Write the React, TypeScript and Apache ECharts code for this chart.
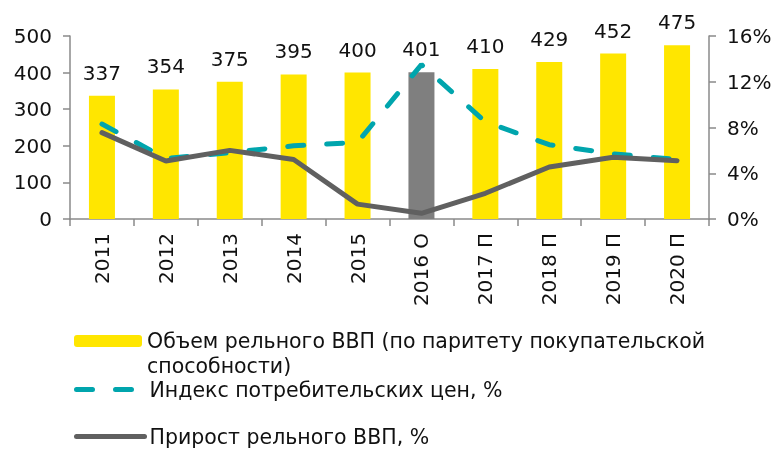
import React, { useEffect, useRef } from "react";
import * as echarts from "echarts";

const categories = ["2011", "2012", "2013", "2014", "2015", "2016 О", "2017 П", "2018 П", "2019 П", "2020 П"];
const gdpVolume = [337, 354, 375, 395, 400, 401, 410, 429, 452, 475];
const cpi = [8.3, 5.3, 5.8, 6.4, 6.7, 13.5, 8.5, 6.5, 5.7, 5.2];
const gdpGrowth = [7.55, 5.07, 6.0, 5.2, 1.3, 0.5, 2.25, 4.55, 5.4, 5.1];
const estimateIndex = 5;

const barName = "Объем рельного ВВП (по паритету покупательской способности)";
const cpiName = "Индекс потребительских цен, %";
const growthName = "Прирост рельного ВВП, %";

const FONT = "DejaVu Sans";
const axisColor = "#8a8a8a";

export default function App() {
  const ref = useRef<HTMLDivElement>(null);
  useEffect(() => {
    if (!ref.current) return;
    const chart = echarts.init(ref.current, undefined, { renderer: "svg" });
    const legendText = { fontFamily: FONT, fontSize: 20.5, color: "#111", lineHeight: 25 };
    const legendBase = {
      left: 74,
      padding: 0,
      itemWidth: 68,
      itemHeight: 12,
      textStyle: legendText,
    };
    chart.setOption({
      animation: false,
      textStyle: { fontFamily: FONT },
      grid: { left: 70, right: 72, top: 36, bottom: 230, containLabel: false },
      legend: [
        {
          ...legendBase,
          data: [barName],
          top: 303.5,
          formatter: () => "\nОбъем рельного ВВП (по паритету покупательской\nспособности)",
        },
        {
          ...legendBase,
          data: [cpiName],
          top: 377,
          itemStyle: { opacity: 0 },
          lineStyle: { width: 5, cap: "round" },
        },
        {
          ...legendBase,
          data: [growthName],
          top: 424,
          itemStyle: { opacity: 0 },
          lineStyle: { width: 5, cap: "round" },
        },
      ],
      xAxis: {
        type: "category",
        data: categories,
        boundaryGap: true,
        axisLine: { lineStyle: { color: axisColor, width: 1.5 } },
        axisTick: { show: true, length: 7, lineStyle: { color: axisColor, width: 1.5 } },
        axisLabel: { rotate: 90, fontSize: 20, color: "#111", margin: 14, fontFamily: FONT },
      },
      yAxis: [
        {
          type: "value",
          min: 0,
          max: 500,
          interval: 100,
          splitLine: { show: false },
          axisLine: { show: true, lineStyle: { color: axisColor, width: 1.5 } },
          axisTick: { show: true, length: 7, lineStyle: { color: axisColor, width: 1.5 } },
          axisLabel: { fontSize: 20, color: "#111", margin: 18, fontFamily: FONT },
        },
        {
          type: "value",
          min: 0,
          max: 16,
          interval: 4,
          position: "right",
          splitLine: { show: false },
          axisLine: { show: true, lineStyle: { color: axisColor, width: 1.5 } },
          axisTick: { show: true, length: 7, lineStyle: { color: axisColor, width: 1.5 } },
          axisLabel: { fontSize: 20, color: "#111", margin: 18, formatter: "{value}%", fontFamily: FONT },
        },
      ],
      series: [
        {
          name: barName,
          type: "bar",
          yAxisIndex: 0,
          barWidth: 26,
          itemStyle: { color: "#FFE600" },
          data: gdpVolume.map((v, i) =>
            i === estimateIndex ? { value: v, itemStyle: { color: "#7F7F7F" } } : v
          ),
          label: { show: true, position: "top", distance: 13, fontSize: 20, color: "#111", fontFamily: FONT },
        },
        {
          name: cpiName,
          type: "line",
          yAxisIndex: 1,
          data: cpi,
          symbol: "none",
          itemStyle: { color: "#00A5AD", opacity: 0 },
          lineStyle: { color: "#00A5AD", width: 5, type: [16, 23], cap: "round" },
        },
        {
          name: growthName,
          type: "line",
          yAxisIndex: 1,
          data: gdpGrowth,
          symbol: "none",
          itemStyle: { color: "#606060", opacity: 0 },
          lineStyle: { color: "#606060", width: 5, cap: "round" },
        },
      ],
    });
    return () => chart.dispose();
  }, []);
  return (
    <div
      ref={ref}
      style={{ position: "fixed", left: 0, top: 0, width: 781, height: 449 }}
    />
  );
}
